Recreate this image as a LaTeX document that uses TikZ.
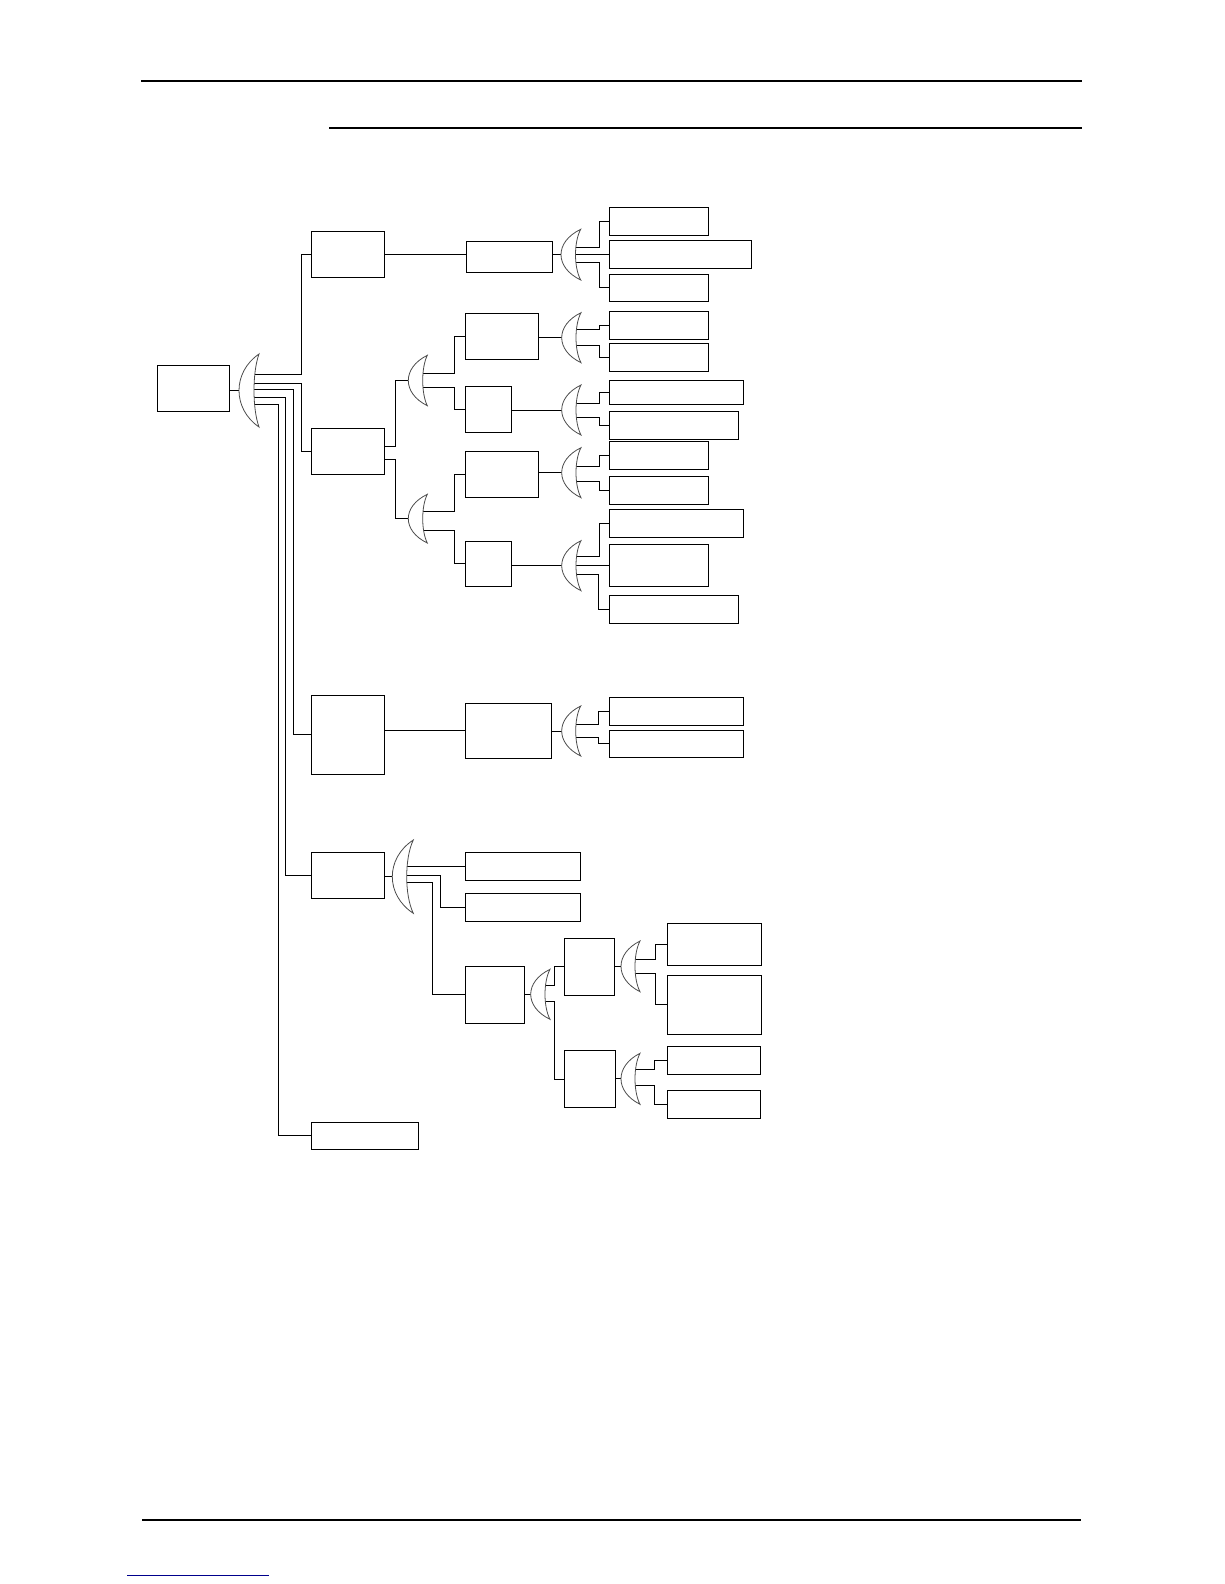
\documentclass[tikz,border=0pt]{standalone}
\usetikzlibrary{calc}
\pgfdeclarelayer{fg}
\pgfsetlayers{main,fg}
\tikzset{
  box/.style={draw, line width=1pt, inner sep=0pt, outer sep=0pt},
  wire/.style={line width=1pt},
  cresshape/.style={draw=black!70, line width=0.8pt, fill=white},
  rulex/.style={line width=1.3pt},
}
\newcommand\bx[5]{\node[box, minimum width={(#4-#2)*1pt}, minimum height={(#5-#3)*1pt}] (#1) at ({(#2+#4)/2},{(#3+#5)/2}) {};}
\newcommand\cres[6]{%
  \pgfmathsetmacro\cmid{(#3+#4)/2}%
  \pgfmathsetmacro\cq{(#4-#3)/4}%
  \pgfmathsetmacro\ca{#2-(#2-#5)*4/3}%
  \pgfmathsetmacro\cb{#2-(#2-#6)*4/3}%
  \coordinate (#1-in) at (#5,\cmid);
  \coordinate (#1-out) at (#6,\cmid);
  \begin{pgfonlayer}{fg}
  \path[cresshape] (#2,#3) .. controls (\ca,#3+\cq) and (\ca,#4-\cq) .. (#2,#4) .. controls (\cb,#4-\cq) and (\cb,#3+\cq) .. cycle;
  \end{pgfonlayer}}
\begin{document}
\begin{tikzpicture}[x=1pt,y=-1pt]
\fill[white] (0,0) rectangle (1224,1584);
\useasboundingbox (0,0) rectangle (1224,1584);
% page rules
\draw[rulex] (141,81) -- (1082,81);
\draw[rulex] (329,128) -- (1082,128);
\draw[rulex] (142,1520) -- (1081,1520);
\draw[line width=1pt, blue!55!black] (127,1575) -- (269,1575);
% boxes
\bx{root}{157}{365}{229}{411}
\bx{b1}{311}{231.3}{384.3}{277.3}
\bx{b1b}{466.3}{241.3}{552.3}{272.3}
\bx{a1}{609}{207.3}{708.3}{235}
\bx{a2}{609}{240.3}{751.7}{268.3}
\bx{a3}{609}{274}{708.3}{301}
\bx{b2}{311}{428.3}{384.3}{474.3}
\bx{b2a1}{465}{313.3}{538.3}{359.3}
\bx{b2a2}{465}{386.3}{511.3}{432.3}
\bx{b2b1}{465.5}{451.3}{538.3}{497}
\bx{b2b2}{465.5}{541}{511}{586.7}
\bx{l1}{609}{311.7}{708.3}{339.3}
\bx{l2}{609}{343.3}{708.3}{371}
\bx{l3}{609}{380.3}{743.3}{404.3}
\bx{l4}{609}{411.7}{738.3}{439}
\bx{l5}{609}{441.7}{708.3}{469.3}
\bx{l6}{609}{476.7}{708.3}{504}
\bx{l7}{609}{509.3}{743.3}{537.3}
\bx{l8}{609}{544.3}{708.3}{586.3}
\bx{l9}{609}{595.3}{738.3}{623.3}
\bx{b3}{311}{695}{384.3}{774.3}
\bx{b3b}{465}{703.3}{551.7}{758.3}
\bx{m1}{609}{697.3}{743.3}{725}
\bx{m2}{609}{730.3}{743.3}{757.3}
\bx{b4}{311}{852.3}{384.3}{898.3}
\bx{n1}{465}{852.3}{580.7}{880.3}
\bx{n2}{465}{893.3}{580.7}{921}
\bx{n3}{465}{966}{524.3}{1023.3}
\bx{p}{564.3}{938.3}{614.3}{995}
\bx{q}{564.3}{1050.3}{615.7}{1107.7}
\bx{r1}{667.3}{923.3}{761.7}{965}
\bx{r2}{667.3}{975.3}{761.7}{1034.3}
\bx{s1}{667.3}{1046.3}{760.7}{1074.3}
\bx{s2}{667.3}{1090.7}{760.7}{1118.3}
\bx{b5}{311}{1122.3}{418.3}{1149.5}
% crescents
\cres{c0}{259}{354}{427}{239}{254}
\cres{c1}{580.7}{229.3}{280}{561}{575.5}
\cres{c2a}{427.3}{355.3}{405.7}{408.3}{422.7}
\cres{c2b}{427.3}{494.3}{543}{408.3}{422.7}
\cres{c3}{581}{312.7}{362.7}{561.7}{576}
\cres{c4}{581}{385}{435}{561.7}{576}
\cres{c5}{581}{447.7}{497.7}{561.7}{576}
\cres{c6}{581}{540.7}{590.7}{561.7}{576}
\cres{c7}{580.7}{706}{756}{561.7}{575.7}
\cres{c8}{413.3}{840}{913.3}{392.3}{406.7}
\cres{c9}{550}{969.3}{1019.3}{530.7}{545}
\cres{c10}{640}{941}{991.7}{621}{635}
\cres{c11}{640}{1053.3}{1104.3}{621}{635}
% root
\draw[wire] (c0-in -| root.east) -- (c0-in);
\draw[wire] (c0-out |- 0,374) -- (301,374) |- (b1.west);
\draw[wire] (c0-out |- 0,383) -- (301,383) |- (b2.west);
\draw[wire] (c0-out |- 0,389.7) -- (293.3,389.7) |- (b3.west);
\draw[wire] (c0-out |- 0,397) -- (285.7,397) |- (b4.west);
\draw[wire] (c0-out |- 0,404.3) -- (278.3,404.3) |- (b5.west);
% branch 1
\draw[wire] (b1.east) -- (b1.east -| b1b.west);
\draw[wire] (c1-in -| b1b.east) -- (c1-in);
\draw[wire] (c1-out |- 0,247.3) -- (599.3,247.3) |- (a1.west);
\draw[wire] (c1-out |- a2.west) -- (a2.west);
\draw[wire] (c1-out |- 0,262.3) -- (599.3,262.3) |- (a3.west);
% branch 2
\draw[wire] (b2.east |- 0,446.7) -- (395.3,446.7) |- (c2a-in);
\draw[wire] (b2.east |- 0,459) -- (395.3,459) |- (c2b-in);
\draw[wire] (c2a-out |- 0,373.3) -- (454.3,373.3) |- (b2a1.west);
\draw[wire] (c2a-out |- 0,387.3) -- (454.3,387.3) |- (b2a2.west);
\draw[wire] (c2b-out |- 0,511) -- (454.3,511) |- (b2b1.west);
\draw[wire] (c2b-out |- 0,530.7) -- (454.3,530.7) |- (b2b2.west);
\draw[wire] (c3-in -| b2a1.east) -- (c3-in);
\draw[wire] (c4-in -| b2a2.east) -- (c4-in);
\draw[wire] (c5-in -| b2b1.east) -- (c5-in);
\draw[wire] (c6-in -| b2b2.east) -- (c6-in);
\draw[wire] (c3-out |- 0,329.3) -- (599.3,329.3) |- (l1.west);
\draw[wire] (c3-out |- 0,345) -- (599.3,345) |- (l2.west);
\draw[wire] (c4-out |- 0,403.3) -- (599.3,403.3) |- (l3.west);
\draw[wire] (c4-out |- 0,417.3) -- (599.3,417.3) |- (l4.west);
\draw[wire] (c5-out |- 0,466) -- (599.3,466) |- (l5.west);
\draw[wire] (c5-out |- 0,481.7) -- (599.3,481.7) |- (l6.west);
\draw[wire] (c6-out |- 0,556.7) -- (599.3,556.7) |- (l7.west);
\draw[wire] (c6-out |- l8.west) -- (l8.west);
\draw[wire] (c6-out |- 0,574.3) -- (598.7,574.3) |- (l9.west);
% branch 3
\draw[wire] (b3b.west -| b3.east) -- (b3b.west);
\draw[wire] (c7-in -| b3b.east) -- (c7-in);
\draw[wire] (c7-out |- 0,724.3) -- (598.3,724.3) |- (m1.west);
\draw[wire] (c7-out |- 0,737.3) -- (598.3,737.3) |- (m2.west);
% branch 4
\draw[wire] (c8-in -| b4.east) -- (c8-in);
\draw[wire] (c8-out |- n1.west) -- (n1.west);
\draw[wire] (c8-out |- 0,875) -- (440.3,875) |- (n2.west);
\draw[wire] (c8-out |- 0,882.3) -- (432.3,882.3) |- (n3.west);
\draw[wire] (c9-in -| n3.east) -- (c9-in);
\draw[wire] (c9-out |- 0,985.3) -- (554.3,985.3) |- (p.west);
\draw[wire] (c9-out |- 0,1001) -- (554.3,1001) |- (q.west);
\draw[wire] (c10-in -| p.east) -- (c10-in);
\draw[wire] (c11-in -| q.east) -- (c11-in);
\draw[wire] (c10-out |- 0,959.3) -- (655.7,959.3) |- (r1.west);
\draw[wire] (c10-out |- 0,973.3) -- (655.7,973.3) |- (r2.west);
\draw[wire] (c11-out |- 0,1069.3) -- (654.3,1069.3) |- (s1.west);
\draw[wire] (c11-out |- 0,1085) -- (654.3,1085) |- (s2.west);
\end{tikzpicture}
\end{document}
